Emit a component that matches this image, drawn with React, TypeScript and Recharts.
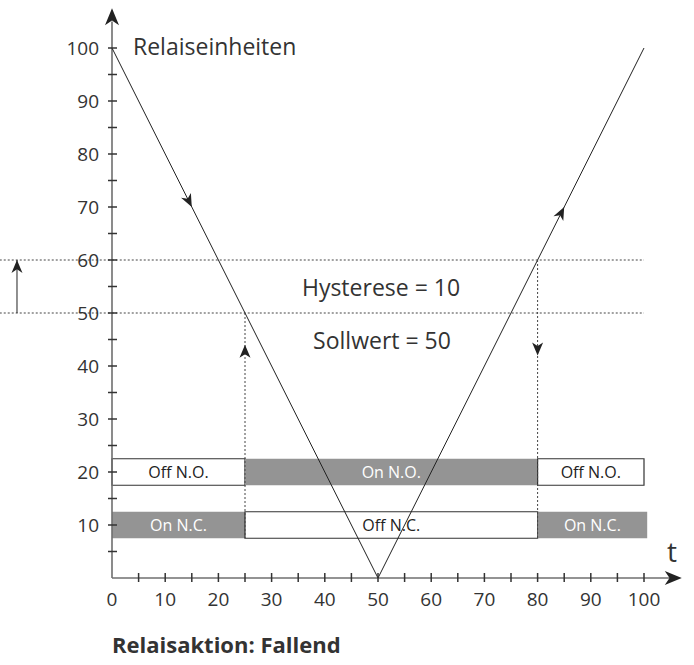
import React from 'react';
import {
  ComposedChart,
  Line,
  XAxis,
  YAxis,
  ReferenceArea,
  ReferenceLine,
  ReferenceDot,
  Customized,
} from 'recharts';

// ---------- data ----------
const vCurve = [
  { t: 0, v: 100 },
  { t: 50, v: 0 },
  { t: 100, v: 100 },
];
const axisTicks = [0, 5, 10, 15, 20, 25, 30, 35, 40, 45, 50, 55, 60, 65, 70, 75, 80, 85, 90, 95, 100];
const setpoint = 50;
const hysteresisTop = 60;
const switchOnT = 25;
const switchOffT = 80;
const noRow = [
  { from: 0, to: 25, label: 'Off N.O.', on: false },
  { from: 25, to: 80, label: 'On N.O.', on: true },
  { from: 80, to: 100, label: 'Off N.O.', on: false },
];
const ncRow = [
  { from: 0, to: 25, label: 'On N.C.', on: true },
  { from: 25, to: 80, label: 'Off N.C.', on: false },
  { from: 80, to: 100.6, label: 'On N.C.', on: true },
];
const noRowLevel = 20;
const ncRowLevel = 10;
const rowHalf = 2.5;
// arrowheads: tip position and direction (data units)
const lineArrows = [
  { x: 15, y: 70, dx: 1, dy: -2 },
  { x: 85, y: 70, dx: 1, dy: 2 },
  { x: 25, y: 44, dx: 0, dy: 1 },
  { x: 80, y: 42, dx: 0, dy: -1 },
  { x: -17.86, y: 60, dx: 0, dy: 1 },
];
const axisArrows = [
  { x: 0, y: 107.5, dx: 0, dy: 1 },
  { x: 107.1, y: 0, dx: 1, dy: 0 },
];

// ---------- layout ----------
const W = 694;
const H = 665;
const PLOT_L = 112;
const PLOT_R = 644;
const PLOT_T = 48;
const PLOT_B = 578;
const M = { top: PLOT_T, right: W - PLOT_R, left: PLOT_L - 1, bottom: H - PLOT_B - 1 };
const PX = (PLOT_R - PLOT_L) / 100;
const PY = (PLOT_B - PLOT_T) / 100;
const FONT = '"Open Sans", "DejaVu Sans", sans-serif';
const TXT = '#333';
const GRAY = '#949494';

const arrowShape = (dx: number, dy: number, len: number, half: number) => (p: any) => {
  const ang = (Math.atan2(-dy * PY, dx * PX) * 180) / Math.PI;
  return (
    <path
      d={`M0,0 L${-len},${-half} L${-len * 0.72},0 L${-len},${half} Z`}
      fill="#222"
      stroke="none"
      transform={`translate(${p.cx},${p.cy}) rotate(${ang})`}
    />
  );
};

const YTick = (props: any) => {
  const { y, payload } = props;
  const x = PLOT_L;
  const v = payload.value;
  if (v === 0) return <g />;
  return (
    <g>
      <line x1={x - 4} x2={x + 5} y1={y} y2={y} stroke="#333" strokeWidth={1.5} />
      {v % 10 === 0 && (
        <text x={x - 13} y={y + 6.5} textAnchor="end" fontSize={19} fill={TXT} fontFamily={FONT}>
          {v}
        </text>
      )}
    </g>
  );
};

const XTick = (props: any) => {
  const { x, payload } = props;
  const y = PLOT_B;
  const v = payload.value;
  return (
    <g>
      {v !== 0 && <line x1={x} x2={x} y1={y - 5} y2={y + 4} stroke="#333" strokeWidth={1.5} />}
      {v % 10 === 0 && (
        <text x={x} y={y + 28} textAnchor="middle" fontSize={19} fill={TXT} fontFamily={FONT}>
          {v}
        </text>
      )}
    </g>
  );
};

const Overlay = () => (
  <g fontFamily={FONT} fill={TXT}>
    <text x={133} y={55} fontSize={23}>Relaiseinheiten</text>
    <text x={381} y={296} fontSize={23} textAnchor="middle">Hysterese = 10</text>
    <text x={382} y={349} fontSize={23} textAnchor="middle">Sollwert = 50</text>
    <text x={667} y={562} fontSize={28}>t</text>
    <text x={112} y={653} fontSize={22} fontWeight="bold">Relaisaktion: Fallend</text>
  </g>
);

const boxes = (row: any[], level: number) =>
  row.map((b, i) => (
    <ReferenceArea
      key={`${level}-${i}`}
      x1={b.from}
      x2={b.to}
      y1={level - rowHalf}
      y2={level + rowHalf}
      ifOverflow="visible"
      fill={b.on ? GRAY : '#fff'}
      fillOpacity={b.on ? 1 : 0}
      stroke={b.on ? 'none' : '#333'}
      strokeWidth={1.2}
      label={{
        value: b.label,
        position: 'center',
        fill: b.on ? '#fff' : '#222',
        fontSize: 16,
        fontFamily: FONT,
      }}
    />
  ));

export default function App() {
  return (
    <div style={{ position: 'absolute', left: 0, top: 0, width: W, height: H, background: '#fff' }}>
      <ComposedChart width={W} height={H} data={vCurve} margin={M}>
        <XAxis
          dataKey="t"
          type="number"
          domain={[0, 100]}
          ticks={axisTicks}
          interval={0}
          height={1}
          tickSize={0}
          tickMargin={0}
          axisLine={false}
          tickLine={false}
          tick={XTick}
        />
        <YAxis
          type="number"
          domain={[0, 100]}
          ticks={axisTicks}
          interval={0}
          width={1}
          tickSize={0}
          tickMargin={0}
          axisLine={false}
          tickLine={false}
          tick={YTick}
        />
        {/* axes with arrow extensions */}
        <ReferenceLine segment={[{ x: 0, y: 0 }, { x: 0, y: 105 }]} stroke="#6f6f6f" strokeWidth={1.6} ifOverflow="visible" />
        <ReferenceLine segment={[{ x: 0, y: 0 }, { x: 105, y: 0 }]} stroke="#6f6f6f" strokeWidth={1.6} ifOverflow="visible" />
        {/* setpoint & hysteresis dotted lines */}
        <ReferenceLine segment={[{ x: -21.1, y: hysteresisTop }, { x: 100, y: hysteresisTop }]} stroke="#444" strokeDasharray="2 2" ifOverflow="visible" />
        <ReferenceLine segment={[{ x: -21.1, y: setpoint }, { x: 100, y: setpoint }]} stroke="#444" strokeDasharray="2 2" ifOverflow="visible" />
        <ReferenceLine segment={[{ x: -17.86, y: setpoint }, { x: -17.86, y: hysteresisTop }]} stroke="#222" strokeWidth={1} ifOverflow="visible" />
        <Line dataKey="v" stroke="#222" strokeWidth={1} dot={false} activeDot={false} isAnimationActive={false} />
        {boxes(noRow, noRowLevel)}
        {boxes(ncRow, ncRowLevel)}
        <ReferenceLine segment={[{ x: switchOnT, y: setpoint }, { x: switchOnT, y: ncRowLevel - rowHalf }]} stroke="#444" strokeDasharray="2 2" ifOverflow="visible" />
        <ReferenceLine segment={[{ x: switchOffT, y: hysteresisTop }, { x: switchOffT, y: ncRowLevel - rowHalf }]} stroke="#444" strokeDasharray="2 2" ifOverflow="visible" />
        {lineArrows.map((a, i) => (
          <ReferenceDot key={`la${i}`} x={a.x} y={a.y} r={1} ifOverflow="visible" shape={arrowShape(a.dx, a.dy, 13, 5.5)} />
        ))}
        {axisArrows.map((a, i) => (
          <ReferenceDot key={`aa${i}`} x={a.x} y={a.y} r={1} ifOverflow="visible" shape={arrowShape(a.dx, a.dy, 17, 7)} />
        ))}
        <Customized component={Overlay} />
      </ComposedChart>
    </div>
  );
}
